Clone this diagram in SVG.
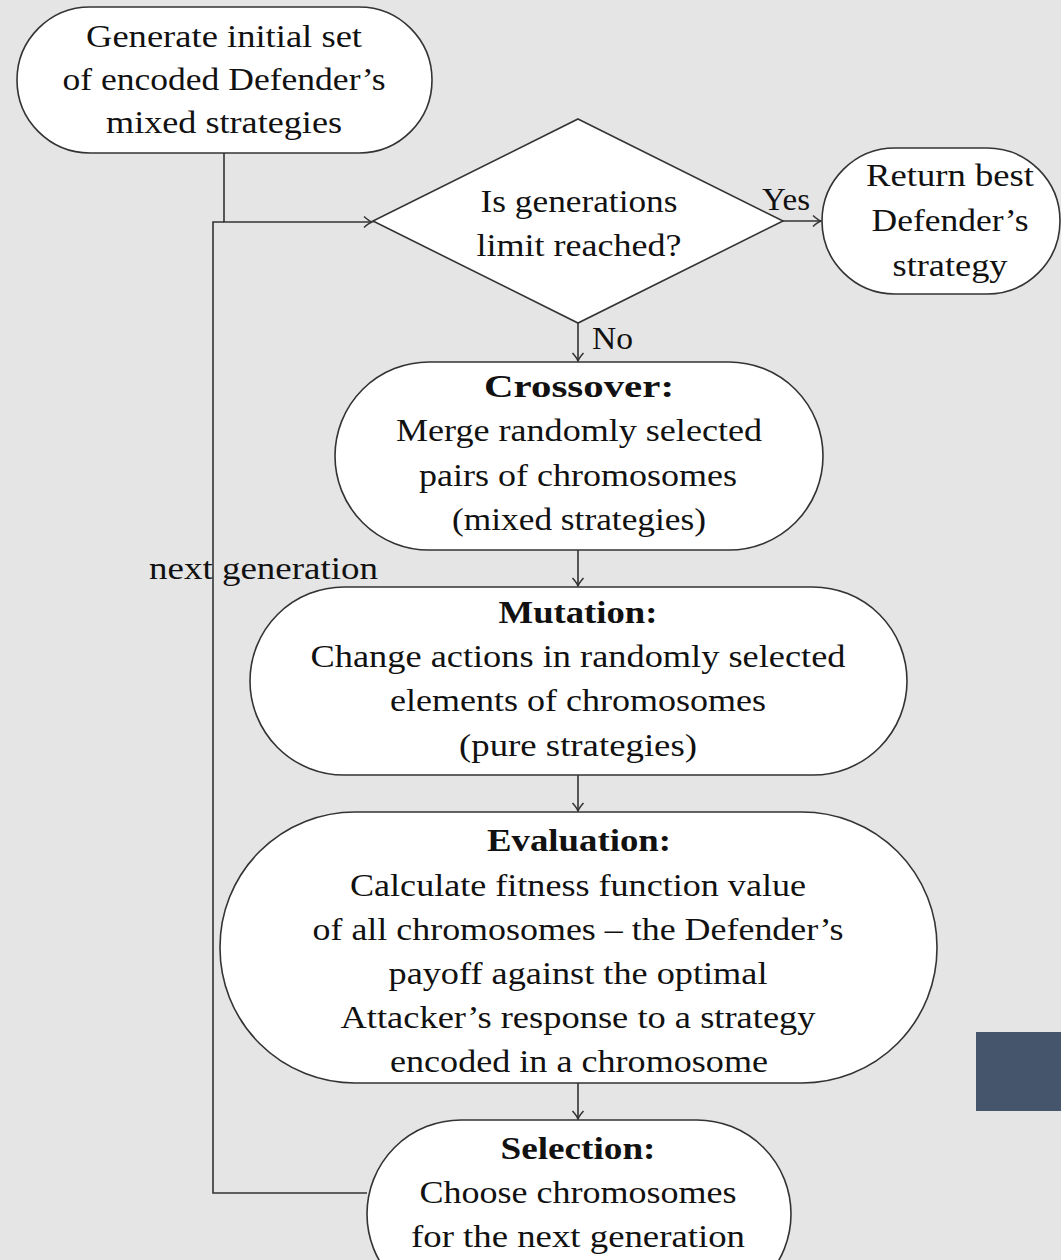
<svg xmlns="http://www.w3.org/2000/svg" width="1061" height="1260" viewBox="0 0 1061 1260">
<style>
.bg{fill:#e5e5e5}
.n{fill:#ffffff;stroke:#333333;stroke-width:1.6}
.c{fill:none;stroke:#333333;stroke-width:1.6}
text{font-family:"Liberation Serif","Times New Roman",serif;font-size:32px;fill:#111111;text-anchor:middle}
.b{font-weight:bold}
.l{text-anchor:start}
</style>
<defs>
<marker id="ar" markerUnits="userSpaceOnUse" markerWidth="14" markerHeight="14" viewBox="-10 -7 12 14" refX="0" refY="0" orient="auto">
<path d="M-8,-5.5 Q-3,-1 0,0 Q-3,1 -8,5.5" fill="none" stroke="#333333" stroke-width="1.5"/>
</marker>
</defs>
<rect class="bg" x="0" y="0" width="1061" height="1260"/>
<rect x="976" y="1032" width="85" height="79" fill="#45556b"/>
<g id="connectors">
<path class="c" d="M224,153 V222 H372" marker-end="url(#ar)"/>
<path class="c" d="M367,1193 H213 V222 H224"/>
<path class="c" d="M783,221 H821" marker-end="url(#ar)"/>
<path class="c" d="M578,323 V361" marker-end="url(#ar)"/>
<path class="c" d="M578,550 V586" marker-end="url(#ar)"/>
<path class="c" d="M578,775 V811" marker-end="url(#ar)"/>
<path class="c" d="M578,1083 V1119" marker-end="url(#ar)"/>
<text x="762" y="210" class="l" textLength="48" lengthAdjust="spacingAndGlyphs">Yes</text>
<text x="592" y="349" class="l" textLength="41" lengthAdjust="spacingAndGlyphs">No</text>
<text x="149" y="579" class="l" textLength="229" lengthAdjust="spacingAndGlyphs">next generation</text>
</g>
<g id="start">
<rect class="n" x="17" y="7" width="415" height="146" rx="73" ry="73"/>
<text x="224" y="47" textLength="276" lengthAdjust="spacingAndGlyphs">Generate initial set</text>
<text x="224" y="90" textLength="323" lengthAdjust="spacingAndGlyphs">of encoded Defender’s</text>
<text x="224" y="133" textLength="236" lengthAdjust="spacingAndGlyphs">mixed strategies</text>
</g>
<g id="decision">
<polygon class="n" points="578,119 783,221 578,323 373,221"/>
<text x="579" y="212" textLength="197" lengthAdjust="spacingAndGlyphs">Is generations</text>
<text x="579" y="256" textLength="205" lengthAdjust="spacingAndGlyphs">limit reached?</text>
</g>
<g id="return">
<rect class="n" x="822" y="148" width="238" height="146" rx="73" ry="73"/>
<text x="950" y="186" textLength="168" lengthAdjust="spacingAndGlyphs">Return best</text>
<text x="950" y="231" textLength="157" lengthAdjust="spacingAndGlyphs">Defender’s</text>
<text x="950" y="276" textLength="115" lengthAdjust="spacingAndGlyphs">strategy</text>
</g>
<g id="crossover">
<rect class="n" x="335" y="362" width="488" height="188" rx="94" ry="94"/>
<text x="579" y="397" class="b" textLength="190" lengthAdjust="spacingAndGlyphs">Crossover:</text>
<text x="579" y="441" textLength="366" lengthAdjust="spacingAndGlyphs">Merge randomly selected</text>
<text x="578" y="486" textLength="318" lengthAdjust="spacingAndGlyphs">pairs of chromosomes</text>
<text x="579" y="530" textLength="254" lengthAdjust="spacingAndGlyphs">(mixed strategies)</text>
</g>
<g id="mutation">
<rect class="n" x="250" y="587" width="657" height="188" rx="94" ry="94"/>
<text x="578" y="623" class="b" textLength="159" lengthAdjust="spacingAndGlyphs">Mutation:</text>
<text x="578" y="667" textLength="535" lengthAdjust="spacingAndGlyphs">Change actions in randomly selected</text>
<text x="578" y="711" textLength="376" lengthAdjust="spacingAndGlyphs">elements of chromosomes</text>
<text x="578" y="756" textLength="238" lengthAdjust="spacingAndGlyphs">(pure strategies)</text>
</g>
<g id="evaluation">
<rect class="n" x="220" y="812" width="717" height="271" rx="135" ry="135"/>
<text x="579" y="851" class="b" textLength="184" lengthAdjust="spacingAndGlyphs">Evaluation:</text>
<text x="578" y="896" textLength="456" lengthAdjust="spacingAndGlyphs">Calculate fitness function value</text>
<text x="578" y="940" textLength="531" lengthAdjust="spacingAndGlyphs">of all chromosomes – the Defender’s</text>
<text x="578" y="984" textLength="379" lengthAdjust="spacingAndGlyphs">payoff against the optimal</text>
<text x="578" y="1028" textLength="475" lengthAdjust="spacingAndGlyphs">Attacker’s response to a strategy</text>
<text x="579" y="1072" textLength="378" lengthAdjust="spacingAndGlyphs">encoded in a chromosome</text>
</g>
<g id="selection">
<rect class="n" x="367" y="1120" width="424" height="188" rx="94" ry="94"/>
<text x="578" y="1159" class="b" textLength="155" lengthAdjust="spacingAndGlyphs">Selection:</text>
<text x="578" y="1203" textLength="317" lengthAdjust="spacingAndGlyphs">Choose chromosomes</text>
<text x="578" y="1247" textLength="334" lengthAdjust="spacingAndGlyphs">for the next generation</text>
</g>
</svg>
